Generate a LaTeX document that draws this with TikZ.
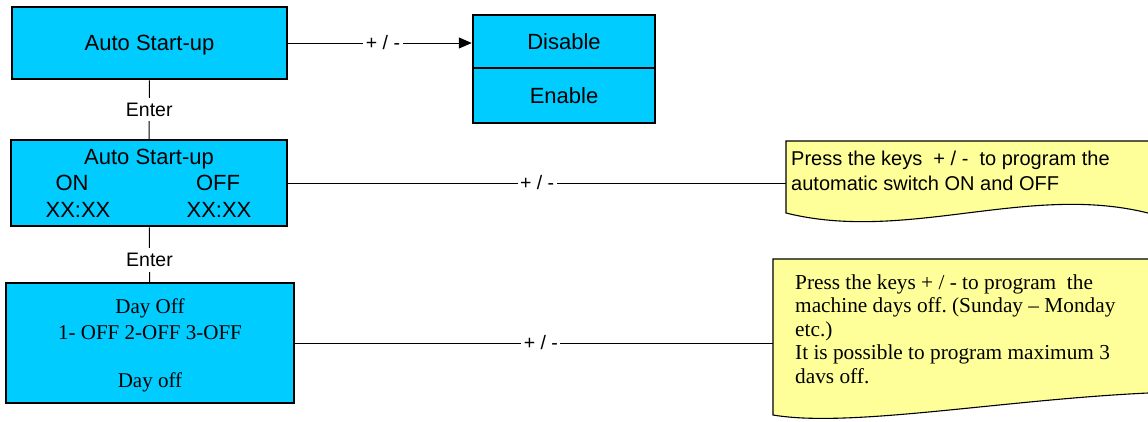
\documentclass[tikz,border=0pt]{standalone}
\usepackage{fontspec}
\setmainfont{Liberation Serif}
\setsansfont{Liberation Sans}
\usetikzlibrary{arrows.meta}
\frenchspacing

\definecolor{menublue}{RGB}{0,204,255}
\definecolor{noteyellow}{RGB}{255,255,153}

\tikzset{
  menubox/.style={draw,line width=2.5pt,fill=menublue,inner sep=0pt,align=center,
    font=\sffamily\fontsize{22}{26}\selectfont},
  menutext/.style={anchor=base,inner sep=0pt,font=\sffamily\fontsize{22}{26}\selectfont},
  keylabel/.style={fill=white,inner xsep=2.5pt,inner ysep=5pt,font=\sffamily\fontsize{19.5}{22}\selectfont},
  link/.style={line width=1pt},
  notebox/.style={draw,line width=1.1pt,fill=noteyellow}
}

\begin{document}
\begin{tikzpicture}[x=1pt,y=-1pt]
\clip (0,0) rectangle (1148,421);

% menu boxes
\node (autostart) at (149.5,43) [menubox,minimum width=275pt,minimum height=72pt] {\rule{0pt}{19pt}Auto Start-up};
\node (disable) at (564,41.5) [menubox,minimum width=182pt,minimum height=53pt] {Disable};
\node (enable) at (564,95.5) [menubox,minimum width=182pt,minimum height=55pt] {Enable};
\node (onoff) at (149,183) [menubox,minimum width=276pt,minimum height=86pt] {};
\node (title) at (149,164) [menutext] {Auto Start-up};
\node (onlabel) at (72,190) [menutext] {ON};
\node (offlabel) at (218,190) [menutext] {OFF};
\node (ontime) at (78,217) [menutext] {XX:XX};
\node (offtime) at (219,217) [menutext] {XX:XX};
\node (dayoff) at (150,343) [menubox,minimum width=288pt,minimum height=120pt,
  font=\rmfamily\fontsize{21}{26}\selectfont] {\rule{0pt}{20pt}Day Off\\1- OFF 2-OFF 3-OFF\\[22pt]Day off};

% notes
\draw [notebox] (786,141) -- (1160,141) -- (1160,213) -- (1148,213)
  .. controls (1028,183) and (906,243) .. (786,213) -- cycle;
\draw [notebox] (773,259) -- (1160,259) -- (1160,391) -- (1148,393)
  .. controls (1000,400) and (850,428) .. (773,415) -- cycle;
\coordinate (notea) at (786,183);
\coordinate (noteb) at (773,343);
\node (noteatext) at (791,150.5) [anchor=north west,inner sep=0pt,align=left,
  font=\sffamily\fontsize{20}{25}\selectfont]
  {Press the keys\ \ + / -\ \ to program the\\automatic switch ON and OFF};
\node (notebtext) at (795,274.5) [anchor=north west,inner sep=0pt,align=left,
  font=\rmfamily\fontsize{21.3}{23.5}\selectfont]
  {Press the keys + / - to program\ \ the\\machine days off. (Sunday – Monday\\etc.)\\It is possible to program maximum 3\\davs off.};

% connectors
\draw [link,-{Triangle[length=13pt,width=11pt]}] (autostart.east) -- (autostart -| disable.west)
  node [keylabel,pos=0.516] {+ / -};
\draw [link] (autostart) -- (onoff) node [keylabel,pos=0.5] {Enter};
\draw [link] (onoff) -- (dayoff) node [keylabel,pos=0.6] {Enter};
\draw [link] (onoff.east) -- (notea) node [keylabel,pos=0.5] {+ / -};
\draw [link] (dayoff.east) -- (noteb) node [keylabel,pos=0.514] {+ / -};
\end{tikzpicture}
\end{document}
